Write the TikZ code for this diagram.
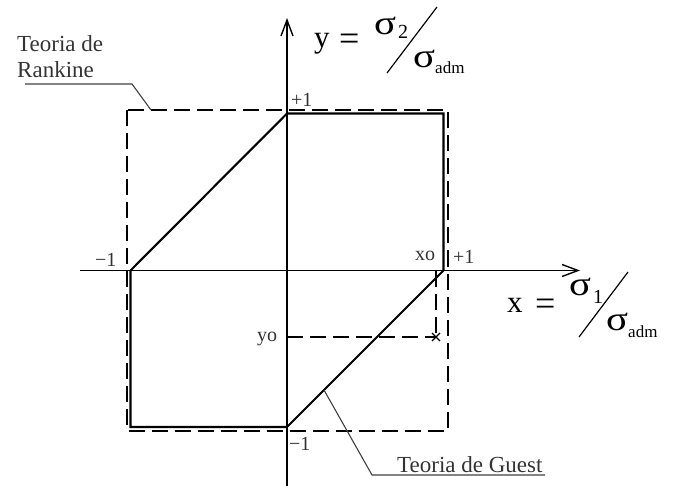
\documentclass[tikz,border=0pt]{standalone}
\usepackage{fontspec}
\setmainfont{Liberation Serif}
\usetikzlibrary{arrows.meta}
\newcommand{\wsig}{\scalebox{1.2}[1]{σ}}
\begin{document}
\begin{tikzpicture}[x=1pt,y=-1pt,
  axis/.style={line width=1.4pt, black},
  bound/.style={line width=2.1pt, black, line join=miter},
  rank/.style={line width=2pt, black, dash pattern=on 16pt off 7pt},
  guide/.style={line width=1.7pt, black, dash pattern=on 16pt off 7pt},
  leader/.style={line width=1.1pt, black!75},
  lbl/.style={font=\fontsize{20}{22}\selectfont, text=black!80, inner sep=0pt, anchor=base west},
  note/.style={font=\fontsize{23}{26}\selectfont, text=black!80, inner sep=0pt, anchor=base west},
  big/.style={font=\fontsize{31}{34}\selectfont, inner sep=0pt, anchor=base west},
  eqs/.style={font=\fontsize{36}{38}\selectfont, inner sep=0pt, anchor=base west},
  sig/.style={font=\fontsize{34}{36}\selectfont, inner sep=0pt, anchor=base west},
  sub/.style={font=\fontsize{20}{22}\selectfont, inner sep=0pt, anchor=base west},
  adm/.style={font=\fontsize{17}{19}\selectfont, inner sep=0pt, anchor=base west},
  tip/.style={-{Straight Barb[length=16pt,width=12pt,line width=1.4pt]}}
]
\useasboundingbox (0,0) rectangle (674,486);
% axes
\coordinate (yb) at (287,486);
\coordinate (yt) at (287,18);
\coordinate (xl) at (80,270.5);
\coordinate (xr) at (580,270.5);
\draw[axis,tip] (yb) -- (yt);
\draw[axis,tip] (xl) -- (xr);
% Rankine square
\coordinate (R1) at (127,110);
\coordinate (R2) at (447.5,430.5);
\draw[rank] (R1) rectangle (R2);
% Guest hexagon
\coordinate (T) at (287,113.5);
\coordinate (TR) at (443.5,113.5);
\coordinate (R) at (443.5,270.5);
\coordinate (B) at (287,427);
\coordinate (BL) at (130.5,427);
\coordinate (L) at (130.5,270.5);
\draw[bound] (T) -- (TR) -- (R) -- (B) -- (BL) -- (L) -- cycle;
% point
\coordinate (X0) at (436,270.5);
\coordinate (Y0) at (287,337);
\coordinate (P) at (436,337);
\draw[guide] (X0) -- (P);
\draw[guide] (Y0) -- (P);
\draw[line width=1.2pt] ([xshift=-4pt,yshift=-4pt]P) -- ([xshift=4pt,yshift=4pt]P)
  ([xshift=-4pt,yshift=4pt]P) -- ([xshift=4pt,yshift=-4pt]P);
% tick labels
\node[lbl] (pt) at (291,107) {+1};
\node[lbl] (ml) at (95,266) {−1};
\node[lbl] (xo) at (415,260) {xo};
\node[lbl] (pr) at (453,263) {+1};
\node[lbl] (yo) at (257,341) {yo};
\node[lbl] (mb) at (289,450) {−1};
% Rankine label
\node[note] (rk1) at (17,52) {Teoria de};
\node[note] (rk2) at (17,78) {Rankine};
\coordinate (rkA) at (151,110);
\coordinate (rkB) at (132,84);
\coordinate (rkC) at (25,84);
\draw[leader] (rkA) -- (rkB) -- (rkC);
% Guest label
\node[note] (gu) at (397,472) {Teoria de Guest};
\coordinate (guA) at (324,390);
\coordinate (guB) at (372,475);
\coordinate (guC) at (545,475);
\draw[leader] (guA) -- (guB) -- (guC);
% y formula
\node[big] (yv) at (314,48) {y};
\node[eqs] (yeq) at (339,51) {=};
\node[sig] (ys) at (374,35) {\wsig};
\node[sub] (y2) at (398,39) {2};
\node[sig] (yd) at (413,68) {\wsig};
\node[adm] (ya) at (435,74) {adm};
\coordinate (ysA) at (387,73);
\coordinate (ysB) at (437,7);
\draw[line width=1.2pt] (ysA) -- (ysB);
% x formula
\node[big] (xv) at (507,312) {x};
\node[eqs] (xeq) at (535,315) {=};
\node[sig] (xs) at (569,295) {\wsig};
\node[sub] (x1) at (593,303) {1};
\node[sig] (xd) at (606,330) {\wsig};
\node[adm] (xa) at (628,337) {adm};
\coordinate (xsA) at (579,337);
\coordinate (xsB) at (628,272);
\draw[line width=1.2pt] (xsA) -- (xsB);
\end{tikzpicture}
\end{document}
